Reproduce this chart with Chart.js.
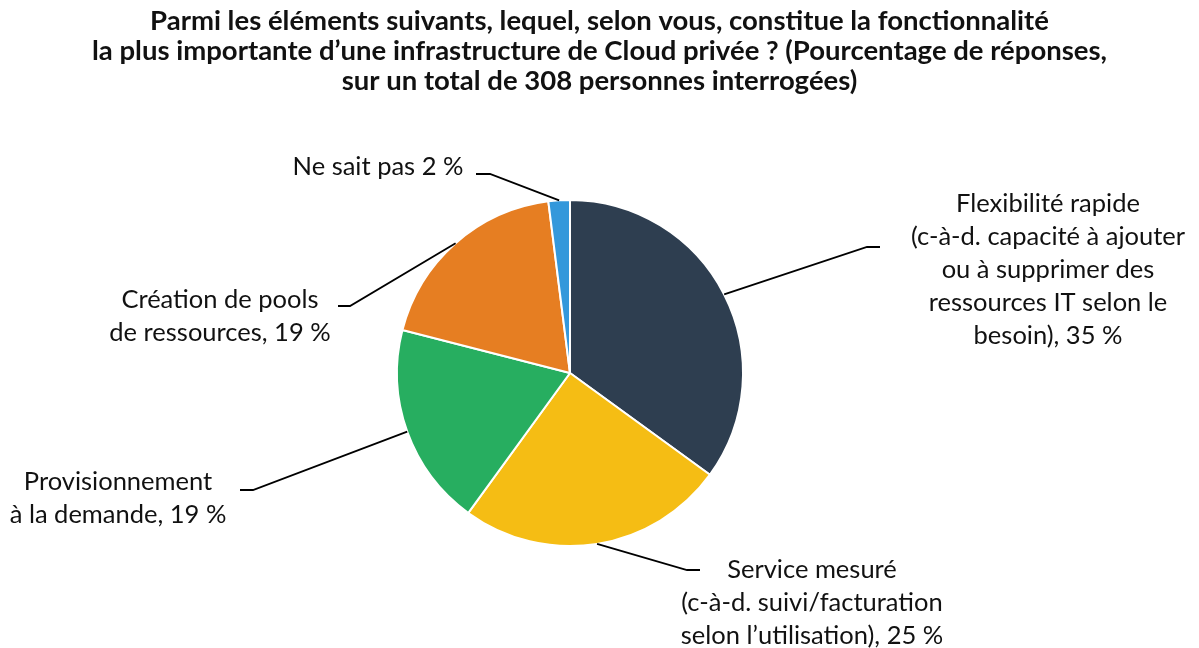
<!DOCTYPE html>
<html>
<head>
<meta charset="utf-8">
<script src="https://cdn.jsdelivr.net/npm/chart.js@4/dist/chart.umd.min.js"></script>
<style>
  html, body { margin:0; padding:0; background:#fff; }
  #wrap { width:1199px; height:648px; }
</style>
</head>
<body>
<div id="wrap"><canvas id="pie"></canvas></div>
<script>
const labels = [
  ['Flexibilité rapide', '(c-à-d. capacité à ajouter', 'ou à supprimer des', 'ressources IT selon le', 'besoin), 35 %'],
  ['Service mesuré', '(c-à-d. suivi/facturation', 'selon l\u2019utilisation), 25 %'],
  ['Provisionnement', 'à la demande, 19 %'],
  ['Création de pools', 'de ressources, 19 %'],
  ['Ne sait pas 2 %']
];
const values = [35, 25, 19, 19, 2];
const colors = ['#2E3E50', '#F5BD14', '#27AE60', '#E67E22', '#3498DB'];

const titleLines = [
  'Parmi les éléments suivants, lequel, selon vous, constitue la fonctionnalité',
  'la plus importante d\u2019une infrastructure de Cloud privée ? (Pourcentage de réponses,',
  'sur un total de 308 personnes interrogées)'
];

// leader line elbows / text anchors, offsets from the pie centre
const calloutPos = [
  { elbow: [297, -126], end: 310, text: [478, -169] },
  { elbow: [117, 197],  end: 130, text: [242, 197] },
  { elbow: [-317, 117], end: -330, text: [-452, 109] },
  { elbow: [-220, -67], end: -232, text: [-350, -73] },
  { elbow: [-80, -199], end: -94,  text: [-192, -206] }
];

const FONT = 'Lato, "Noto Sans", sans-serif';

// title is centred on the whole canvas, the pie sits a bit left of it
const pageTitle = {
  id: 'pageTitle',
  afterDraw(chart) {
    const ctx = chart.ctx;
    ctx.save();
    ctx.fillStyle = '#111';
    ctx.font = 'bold 27.5px ' + FONT;
    ctx.textAlign = 'center';
    ctx.textBaseline = 'middle';
    titleLines.forEach((line, k) => ctx.fillText(line, chart.width / 2, 21 + k * 30));
    ctx.restore();
  }
};

const callouts = {
  id: 'callouts',
  afterDatasetsDraw(chart) {
    const ctx = chart.ctx;
    const meta = chart.getDatasetMeta(0);
    meta.data.forEach((arc, i) => {
      const p = arc.getProps(['x', 'y', 'startAngle', 'endAngle', 'outerRadius'], true);
      const mid = (p.startAngle + p.endAngle) / 2;
      const ex = p.x + Math.cos(mid) * p.outerRadius;
      const ey = p.y + Math.sin(mid) * p.outerRadius;
      const c = calloutPos[i];
      ctx.save();
      ctx.strokeStyle = '#000';
      ctx.lineWidth = 1.8;
      ctx.beginPath();
      ctx.moveTo(ex, ey);
      ctx.lineTo(p.x + c.elbow[0], p.y + c.elbow[1]);
      ctx.lineTo(p.x + c.end, p.y + c.elbow[1]);
      ctx.stroke();
      ctx.fillStyle = '#111';
      ctx.font = '25.5px ' + FONT;
      ctx.textAlign = 'center';
      ctx.textBaseline = 'middle';
      chart.data.labels[i].forEach((line, k) => {
        ctx.fillText(line, p.x + c.text[0], p.y + c.text[1] + k * 33);
      });
      ctx.restore();
    });
  }
};

new Chart(document.getElementById('pie'), {
  type: 'pie',
  data: {
    labels,
    datasets: [{
      data: values,
      backgroundColor: colors,
      borderColor: '#fff',
      borderWidth: 2
    }]
  },
  options: {
    responsive: true,
    maintainAspectRatio: false,
    animation: false,
    radius: 173,
    layout: { padding: { top: 104, bottom: 6, left: 0, right: 59 } },
    plugins: {
      legend: { display: false },
      tooltip: { enabled: false },
      title: { display: false }
    }
  },
  plugins: [callouts, pageTitle]
});
</script>
</body>
</html>
